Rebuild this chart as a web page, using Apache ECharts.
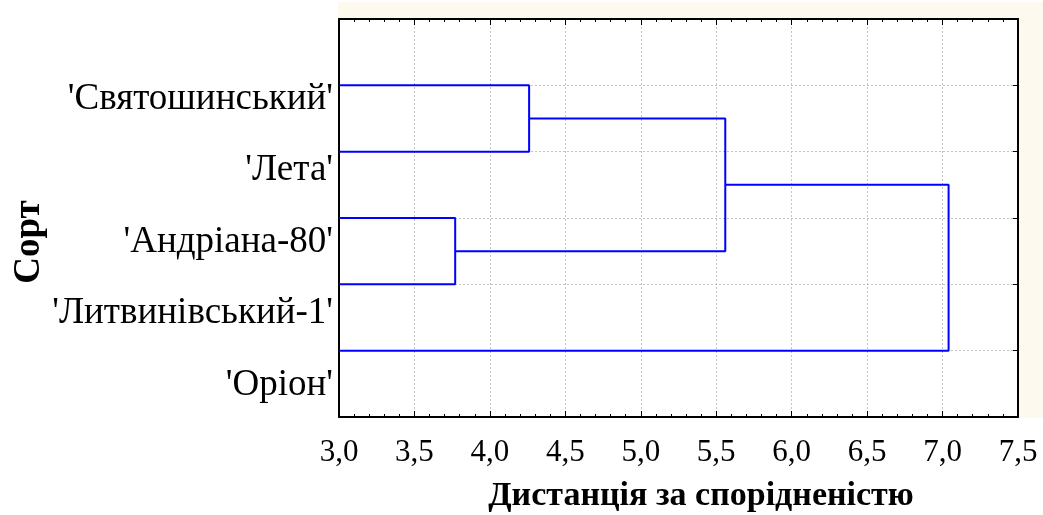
<!DOCTYPE html>
<html>
<head>
<meta charset="utf-8">
<script src="https://cdn.jsdelivr.net/npm/echarts@6/dist/echarts.min.js"></script>
<style>
html,body{margin:0;padding:0;background:#fff;}
#chart{width:1043px;height:515px;}
</style>
</head>
<body>
<div id="chart"></div>
<script>
// ---- data ----
const leafLabels = ["'Святошинський'", "'Лета'", "'Андріана-80'", "'Литвинівський-1'", "'Оріон'"];
// leaf nodes are 0..4; merged clusters get indices 5,6,7,8 in order
const mergeA = [0, 2, 5, 7];
const mergeB = [1, 3, 6, 4];
const mergeHeight = [4.26, 3.77, 5.56, 7.04];
const xMin = 3.0, xMax = 7.5, xStep = 0.5;
const xAxisTitle = 'Дистанція за спорідненістю';
const yAxisTitle = 'Сорт';

// ---- build dendrogram links ----
const nodeY = [], nodeH = [];
leafLabels.forEach((_, i) => { nodeY.push(i + 1); nodeH.push(xMin); });
const series = [];
mergeA.forEach((a, k) => {
  const b = mergeB[k], h = mergeHeight[k];
  series.push({
    type: 'line', xAxisIndex: 0, yAxisIndex: 0,
    symbol: 'none', animation: false, silent: true,
    lineStyle: { color: '#0000ff', width: 2 },
    data: [[nodeH[a], nodeY[a]], [h, nodeY[a]], [h, nodeY[b]], [nodeH[b], nodeY[b]]]
  });
  nodeY.push((nodeY[a] + nodeY[b]) / 2);
  nodeH.push(h);
});

const serif = "'Liberation Serif', 'Times New Roman', serif";
const tickStyle = { inside: true, length: 6, lineStyle: { color: '#000', width: 1 } };
const minor = { show: true, splitNumber: 5, length: 3, lineStyle: { color: '#000', width: 1 } };
const frame = { show: true, onZero: false, lineStyle: { color: '#000', width: 2 } };
const grid = { color: '#c4c4c4', width: 1, type: [2, 2] };

const chart = echarts.init(document.getElementById('chart'), null, { renderer: 'canvas' });
chart.setOption({
  animation: false,
  backgroundColor: '#ffffff',
  graphic: [{
    type: 'rect', z: -100, silent: true,
    shape: { x: 338, y: 2, width: 705, height: 416 },
    style: { fill: '#fef9ee' }
  }],
  grid: [
    { left: 339, right: 25, top: 19, bottom: 98, show: true, backgroundColor: '#ffffff', borderWidth: 0, outerBoundsMode: 'none', containLabel: false },
    { left: 339, width: 10, top: 63, height: 358, show: false, outerBoundsMode: 'none', containLabel: false }
  ],
  xAxis: [
    {
      gridIndex: 0, type: 'value', min: xMin, max: xMax, interval: xStep, position: 'bottom',
      axisLine: frame, axisTick: tickStyle, minorTick: minor,
      splitLine: { show: true, lineStyle: grid },
      axisLabel: {
        color: '#000', fontFamily: serif, fontSize: 31, margin: 20,
        formatter: v => v.toFixed(1).replace('.', ',')
      },
      name: xAxisTitle, nameLocation: 'middle', nameGap: 62,
      nameTextStyle: { color: '#000', fontFamily: serif, fontWeight: 'bold', fontSize: 34, padding: [0, 0, 0, 45] }
    },
    {
      gridIndex: 0, type: 'value', min: xMin, max: xMax, interval: xStep, position: 'top',
      axisLine: frame, axisTick: tickStyle, minorTick: minor,
      splitLine: { show: false }, axisLabel: { show: false }
    },
    { gridIndex: 1, type: 'value', show: false }
  ],
  yAxis: [
    {
      gridIndex: 0, type: 'value', min: 0, max: leafLabels.length + 1, interval: 1, inverse: true, position: 'left',
      axisLine: frame, axisTick: { inside: true, length: 5, lineStyle: { color: '#000', width: 1 } },
      axisLabel: { show: false }, splitLine: { show: true, lineStyle: grid }
    },
    {
      gridIndex: 0, type: 'value', min: 0, max: leafLabels.length + 1, interval: 1, inverse: true, position: 'right',
      axisLine: frame, axisTick: { inside: true, length: 5, lineStyle: { color: '#000', width: 1 } },
      axisLabel: { show: false }, splitLine: { show: false }
    },
    {
      gridIndex: 1, type: 'category', data: leafLabels, inverse: true, position: 'left',
      axisLine: { show: false }, axisTick: { show: false }, splitLine: { show: false },
      axisLabel: { interval: 0, color: '#000', fontFamily: serif, fontSize: 37, margin: 6 },
      name: yAxisTitle, nameLocation: 'middle', nameGap: 290,
      nameTextStyle: { color: '#000', fontFamily: serif, fontWeight: 'bold', fontSize: 37 }
    }
  ],
  series: series
});
</script>
</body>
</html>
